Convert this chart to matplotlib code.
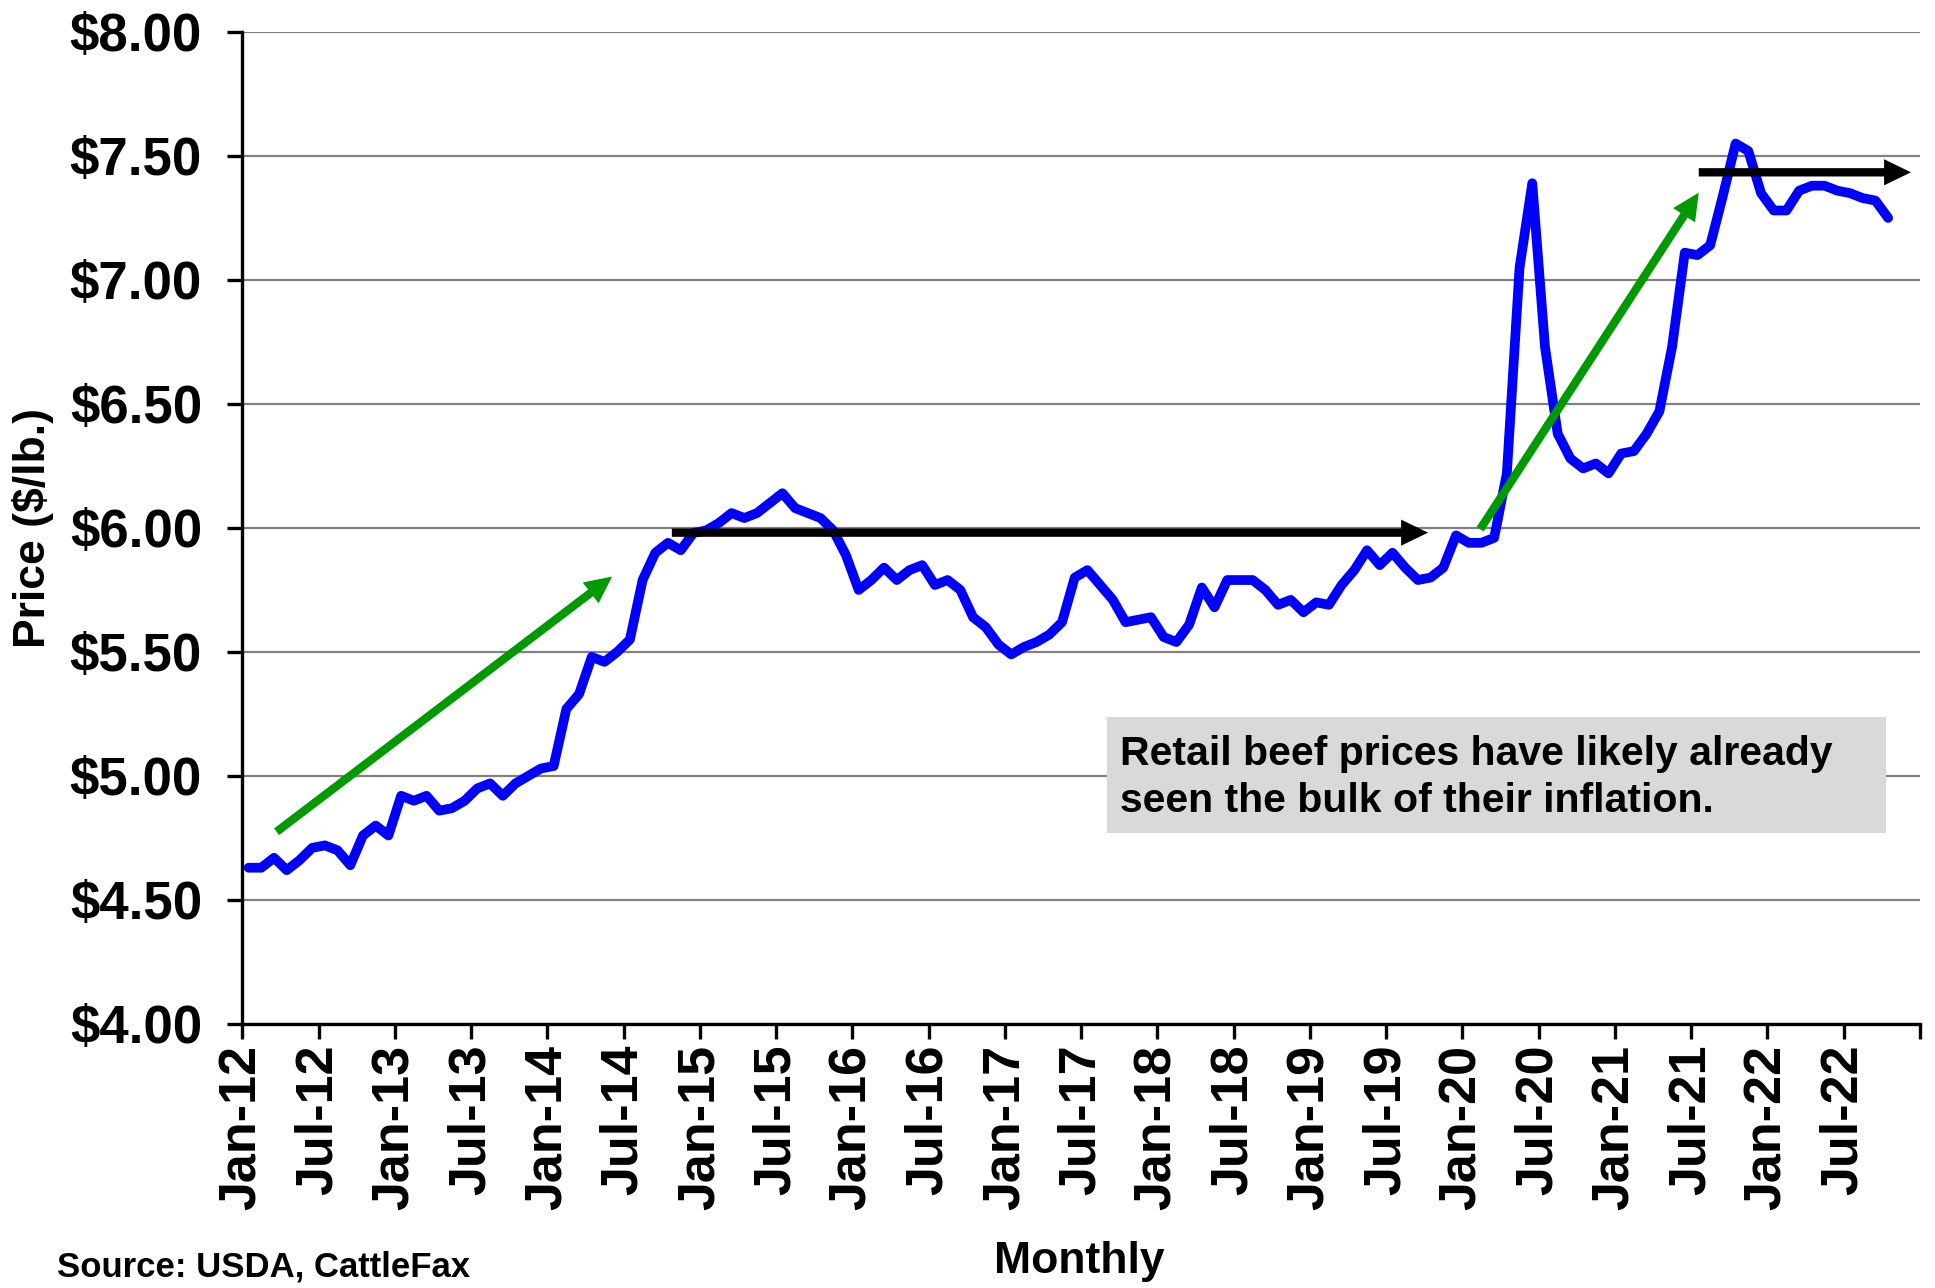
import matplotlib.pyplot as plt
from matplotlib.patches import Rectangle
import numpy as np

plt.rcParams['font.family'] = ['Liberation Sans', 'DejaVu Sans']
plt.rcParams['font.weight'] = 'bold'

# monthly retail beef price, Jan-12 .. Oct-22 ($/lb.)
prices = [
    4.63, 4.63, 4.67, 4.62, 4.66, 4.71, 4.72, 4.70, 4.64, 4.76, 4.80, 4.76,  # 2012
    4.92, 4.90, 4.92, 4.86, 4.87, 4.90, 4.95, 4.97, 4.92, 4.97, 5.00, 5.03,  # 2013
    5.04, 5.27, 5.33, 5.48, 5.46, 5.50, 5.55, 5.79, 5.90, 5.94, 5.91, 5.98,  # 2014
    5.99, 6.02, 6.06, 6.04, 6.06, 6.10, 6.14, 6.08, 6.06, 6.04, 5.99, 5.89,  # 2015
    5.75, 5.79, 5.84, 5.79, 5.83, 5.85, 5.77, 5.79, 5.75, 5.64, 5.60, 5.53,  # 2016
    5.49, 5.52, 5.54, 5.57, 5.62, 5.80, 5.83, 5.77, 5.71, 5.62, 5.63, 5.64,  # 2017
    5.56, 5.54, 5.61, 5.76, 5.68, 5.79, 5.79, 5.79, 5.75, 5.69, 5.71, 5.66,  # 2018
    5.70, 5.69, 5.77, 5.83, 5.91, 5.85, 5.90, 5.84, 5.79, 5.80, 5.84, 5.97,  # 2019
    5.94, 5.94, 5.96, 6.22, 7.05, 7.39, 6.73, 6.38, 6.28, 6.24, 6.26, 6.22,  # 2020
    6.30, 6.31, 6.38, 6.47, 6.73, 7.11, 7.10, 7.14, 7.34, 7.55, 7.52, 7.35,  # 2021
    7.28, 7.28, 7.36, 7.38, 7.38, 7.36, 7.35, 7.33, 7.32, 7.25,              # 2022
]
tick_labels = ['Jan-12', 'Jul-12', 'Jan-13', 'Jul-13', 'Jan-14', 'Jul-14',
               'Jan-15', 'Jul-15', 'Jan-16', 'Jul-16', 'Jan-17', 'Jul-17',
               'Jan-18', 'Jul-18', 'Jan-19', 'Jul-19', 'Jan-20', 'Jul-20',
               'Jan-21', 'Jul-21', 'Jan-22', 'Jul-22']
y_ticks = [4.0, 4.5, 5.0, 5.5, 6.0, 6.5, 7.0, 7.5, 8.0]

note = "Retail beef prices have likely already\nseen the bulk of their inflation."

fig = plt.figure(figsize=(19.35, 12.88), dpi=100)
ax = fig.add_axes([0.1252, 0.205, 0.8670, 0.7702])

# points sit in the middle of each month category
x = np.arange(len(prices)) + 0.5
ax.plot(x, prices, color='#0000FF', lw=7, solid_joinstyle='round',
        solid_capstyle='round', zorder=3)

ax.set_xlim(0, 132)
ax.set_ylim(4.0, 8.0)
ax.set_yticks(y_ticks)
ax.set_yticklabels(['${:.2f}'.format(v) for v in y_ticks], fontsize=38, fontweight='bold')
xt = list(range(0, 6 * len(tick_labels), 6)) + [132]
ax.set_xticks(xt)
ax.set_xticklabels(tick_labels + [''], rotation=90, fontsize=37.5, fontweight='bold')

ax.grid(axis='y', color='#808080', lw=1.6, zorder=0)
ax.set_axisbelow(True)
for s in ['top', 'right']:
    ax.spines[s].set_visible(False)
for s in ['left', 'bottom']:
    ax.spines[s].set_linewidth(2.4)
ax.tick_params(axis='both', length=11, width=2.4, color='black')
ax.tick_params(axis='y', pad=18)
ax.tick_params(axis='x', pad=4)


def arrow(x0, y0, x1, y1, c):
    ax.annotate('', xy=(x1, y1), xytext=(x0, y0),
                arrowprops=dict(arrowstyle='simple,head_length=0.97,head_width=0.94,tail_width=0.3',
                                mutation_scale=20, color=c, lw=0,
                                shrinkA=0, shrinkB=0), zorder=4)


arrow(2.7, 4.775, 29.1, 5.804, '#009900')
arrow(33.8, 5.981, 93.3, 5.981, 'black')
arrow(97.4, 5.995, 114.6, 7.352, '#009900')
arrow(114.6, 7.434, 131.3, 7.434, 'black')

# note box
ax.add_patch(Rectangle((68.0, 4.770), 61.3, 0.468, facecolor='#D9D9D9',
                       edgecolor='none', zorder=5))
ax.text(69.1, 4.992, note, fontsize=29.5, fontweight='bold', ha='left',
        va='center', linespacing=1.3, zorder=6)

fig.text(0.017, 0.59, 'Price ($/lb.)', rotation=90, fontsize=32,
         fontweight='bold', ha='center', va='center')
fig.text(0.558, 0.0116, 'Monthly', fontsize=32, fontweight='bold',
         ha='center', va='baseline')
fig.text(0.0295, 0.009, 'Source: USDA, CattleFax', fontsize=25,
         fontweight='bold', ha='left', va='baseline')

fig.savefig('out.png', dpi=100)
